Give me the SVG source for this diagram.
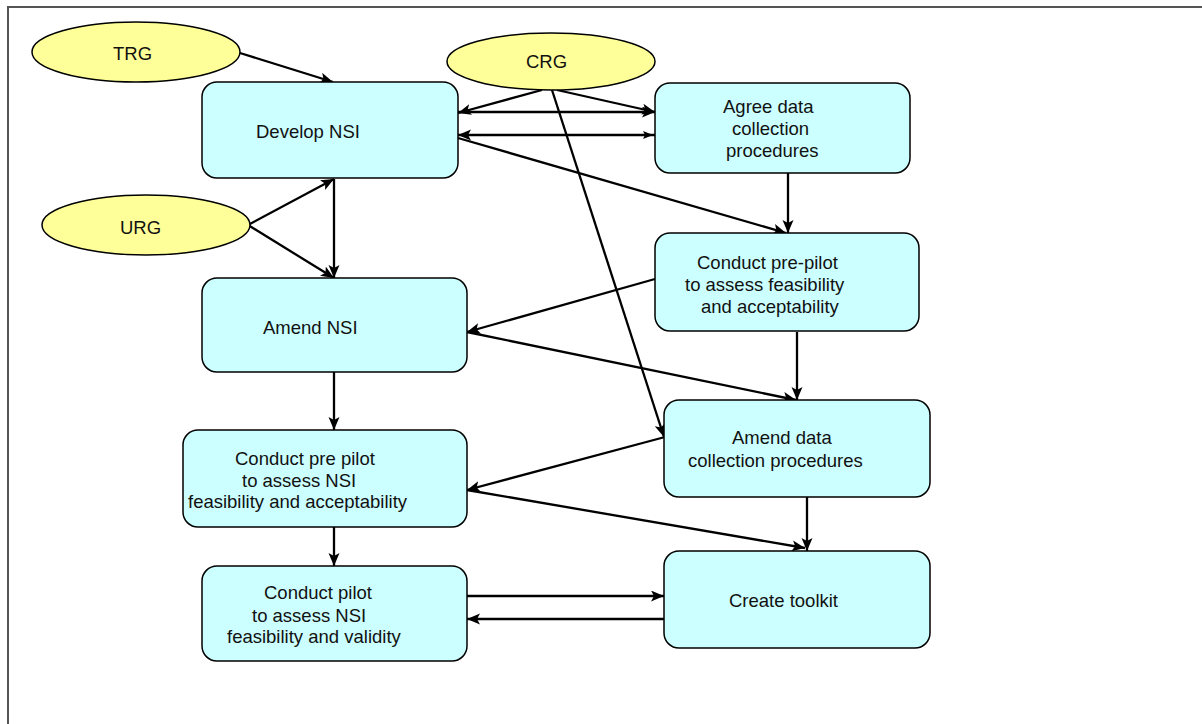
<svg xmlns="http://www.w3.org/2000/svg" width="1202" height="724" viewBox="0 0 1202 724">
<defs>
<style>
.box{fill:#CCFFFF;stroke:#000;stroke-width:1.5}
.ell{fill:#FFFF99;stroke:#000;stroke-width:1.5}
.t{font-family:"Liberation Sans",Arial,sans-serif;font-size:18.5px;fill:#111}
.c{stroke:#000;stroke-width:2.3;fill:none;marker-end:url(#ah)}
</style>
<marker id="ah" markerUnits="userSpaceOnUse" markerWidth="16" markerHeight="12" refX="13" refY="5.5" orient="auto">
<path d="M0,0 L13,5.5 L0,11 L3,5.5 Z" fill="#000"/>
</marker>
<marker id="as" markerUnits="userSpaceOnUse" markerWidth="12" markerHeight="10" refX="-2" refY="4" orient="auto">
<path d="M10,0 L0,4 L10,8 L8,4 Z" fill="#000"/>
</marker>
</defs>
<rect x="0" y="0" width="1202" height="724" fill="#fff"/>
<path d="M8,724 L8,7 L1202,7" fill="none" stroke="#555" stroke-width="2"/>
<g id="connectors">
<line class="c" x1="240" y1="53" x2="333" y2="82"/>
<line class="c" x1="542" y1="90" x2="458" y2="113"/>
<line class="c" x1="458" y1="112" x2="655" y2="112"/>
<line class="c" x1="557" y1="90" x2="655" y2="112"/>
<line class="c" x1="655" y1="135" x2="458" y2="135" style="marker-start:url(#as)"/>
<line class="c" x1="458" y1="138" x2="786" y2="233"/>
<line class="c" x1="788" y1="173" x2="788" y2="233"/>
<line class="c" x1="552" y1="90" x2="664" y2="437"/>
<line class="c" x1="248" y1="225" x2="334" y2="179"/>
<line class="c" x1="248" y1="225" x2="334" y2="278"/>
<line class="c" x1="334" y1="179" x2="334" y2="278"/>
<line class="c" x1="655" y1="279" x2="467" y2="332"/>
<line class="c" x1="467" y1="332" x2="796" y2="400"/>
<line class="c" x1="797" y1="332" x2="797" y2="400"/>
<line class="c" x1="334" y1="372" x2="334" y2="430"/>
<line class="c" x1="665" y1="437" x2="467" y2="490"/>
<line class="c" x1="467" y1="490" x2="805" y2="548"/>
<line class="c" x1="807" y1="497" x2="807" y2="551"/>
<line class="c" x1="334" y1="527" x2="334" y2="566"/>
<line class="c" x1="467" y1="596" x2="664" y2="596"/>
<line class="c" x1="664" y1="619" x2="467" y2="619"/>
</g>
<g id="trg">
<ellipse class="ell" cx="136" cy="52" rx="104" ry="30"/>
<text class="t" x="113" y="60">TRG</text>
</g>
<g id="crg">
<ellipse class="ell" cx="551" cy="61.5" rx="104" ry="28.5"/>
<text class="t" x="526" y="68">CRG</text>
</g>
<g id="urg">
<ellipse class="ell" cx="146" cy="225" rx="104" ry="30"/>
<text class="t" x="120" y="234">URG</text>
</g>
<g id="develop">
<rect class="box" x="202" y="82" width="256" height="96" rx="15"/>
<text class="t" x="256" y="138">Develop NSI</text>
</g>
<g id="agree">
<rect class="box" x="655" y="83" width="255" height="90" rx="15"/>
<text class="t" x="723" y="113">Agree data</text>
<text class="t" x="732" y="135">collection</text>
<text class="t" x="726" y="157">procedures</text>
</g>
<g id="prepilot-right">
<rect class="box" x="655" y="233" width="264" height="98" rx="15"/>
<text class="t" x="697" y="269">Conduct pre-pilot</text>
<text class="t" x="685" y="291">to assess feasibility</text>
<text class="t" x="701" y="313">and acceptability</text>
</g>
<g id="amend-nsi">
<rect class="box" x="202" y="278" width="265" height="94" rx="15"/>
<text class="t" x="263" y="334">Amend NSI</text>
</g>
<g id="amend-data">
<rect class="box" x="664" y="400" width="266" height="97" rx="15"/>
<text class="t" x="732" y="444">Amend data</text>
<text class="t" x="688" y="467">collection procedures</text>
</g>
<g id="prepilot-left">
<rect class="box" x="183" y="430" width="284" height="97" rx="15"/>
<text class="t" x="235" y="465">Conduct pre pilot</text>
<text class="t" x="242" y="487">to assess NSI</text>
<text class="t" x="188" y="508">feasibility and acceptability</text>
</g>
<g id="pilot">
<rect class="box" x="202" y="566" width="265" height="95" rx="15"/>
<text class="t" x="264" y="599">Conduct pilot</text>
<text class="t" x="252" y="622">to assess NSI</text>
<text class="t" x="227" y="643">feasibility and validity</text>
</g>
<g id="toolkit">
<rect class="box" x="664" y="551" width="266" height="97" rx="15"/>
<text class="t" x="729" y="607">Create toolkit</text>
</g>
</svg>
